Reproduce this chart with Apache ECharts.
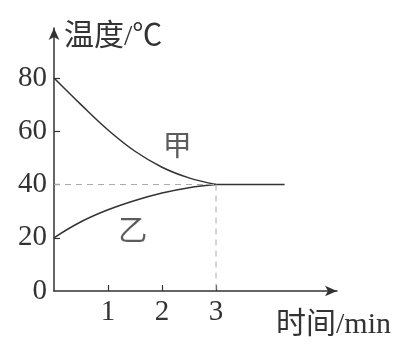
<!DOCTYPE html>
<html><head><meta charset="utf-8">
<script src="https://cdn.jsdelivr.net/npm/echarts@6/dist/echarts.min.js"></script>
<style>html,body{margin:0;padding:0;background:#fff}#c{width:395px;height:345px}</style>
</head><body><div id="c"></div>
<script>
const times = [0, 0.5, 1, 1.5, 2, 2.5, 3];
const jia = [80, 70, 60.5, 52.5, 46.5, 42.5, 40];
const yi = [20, 26, 30.5, 34, 36.8, 38.8, 40];
const flatTimes = [3, 4.27];
const flatTemp = [40, 40];
const xTicks = [1, 2, 3];
const yTicks = [20, 40, 60, 80];
const yLabels = [0, 20, 40, 60, 80];
const seriesNames = ['甲', '乙'];
const namePos = [[2.28, 53.5], [1.46, 21.8]];
const xName = '时间/min';
const yName = '温度/℃';

const FONT = "'Liberation Serif','Noto Sans CJK SC',serif";
const ink = '#333';
const chart = echarts.init(document.getElementById('c'));
chart.setOption({
  animation: false,
  grid: {left: 54, top: 28, right: 58, bottom: 54},
  xAxis: {
    type: 'value', min: 0, max: 5.24,
    axisLine: {lineStyle: {color: ink, width: 1.5}, symbol: ['none', 'arrow'], symbolSize: [8, 12]},
    axisTick: {inside: true, length: 6, customValues: xTicks, lineStyle: {color: ink, width: 1.2}},
    axisLabel: {customValues: xTicks, color: ink, fontSize: 29, fontFamily: FONT, margin: 7},
    splitLine: {show: false},
    name: xName, nameLocation: 'end', nameGap: 54,
    nameTextStyle: {align: 'right', verticalAlign: 'top', padding: [19, 0, 0, 0], color: ink, fontSize: 30, fontFamily: FONT}
  },
  yAxis: {
    type: 'value', min: 0, max: 98.8,
    axisLine: {lineStyle: {color: ink, width: 1.5}, symbol: ['none', 'arrow'], symbolSize: [8, 12]},
    axisTick: {inside: true, length: 6, customValues: yTicks, lineStyle: {color: ink, width: 1.2}},
    axisLabel: {customValues: yLabels, color: ink, fontSize: 29, fontFamily: FONT, margin: 7},
    splitLine: {show: false},
    name: yName, nameLocation: 'end', nameGap: -9,
    nameTextStyle: {align: 'left', verticalAlign: 'middle', padding: [0, 0, 0, 10], color: ink, fontSize: 30, fontFamily: FONT}
  },
  series: [
    {name: seriesNames[0], type: 'line', smooth: 0.4, symbol: 'none',
     lineStyle: {color: ink, width: 1.5}, data: times.map((t, i) => [t, jia[i]])},
    {name: seriesNames[1], type: 'line', smooth: 0.4, symbol: 'none',
     lineStyle: {color: ink, width: 1.5}, data: times.map((t, i) => [t, yi[i]])},
    {type: 'line', symbol: 'none', lineStyle: {color: ink, width: 1.5},
     data: flatTimes.map((t, i) => [t, flatTemp[i]])},
    {type: 'line', symbol: 'none', lineStyle: {color: '#aaa', width: 1, type: [6, 5]},
     data: [[0, flatTemp[0]], [flatTimes[0], flatTemp[0]]]},
    {type: 'line', symbol: 'none', lineStyle: {color: '#aaa', width: 1, type: [6, 5]},
     data: [[flatTimes[0], flatTemp[0]], [flatTimes[0], 0]]},
    {type: 'scatter', symbolSize: 0, silent: true,
     label: {show: true, position: 'inside', formatter: p => p.data.name, color: ink, fontSize: 29, fontFamily: FONT},
     data: seriesNames.map((n, i) => ({name: n, value: namePos[i]}))}
  ]
});
</script></body></html>
